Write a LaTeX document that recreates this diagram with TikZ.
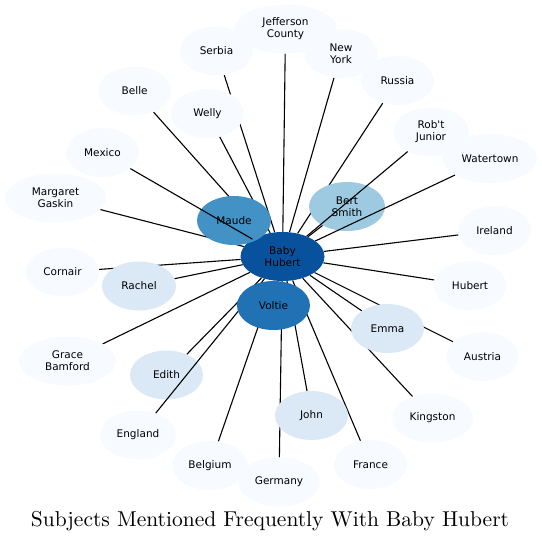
\documentclass[tikz,border=0pt]{standalone}
\usepackage{fontspec}
\newfontfamily\lbl{DejaVu Sans}
\newfontfamily\ttl{lmroman10-regular.otf}
\usetikzlibrary{shapes.geometric}
\pgfdeclarelayer{bg}
\pgfdeclarelayer{fg}
\pgfdeclarelayer{top}
\pgfsetlayers{bg,main,fg,top}
\definecolor{cHub}{HTML}{08519C}
\definecolor{cVol}{HTML}{2171B5}
\definecolor{cMau}{HTML}{4292C6}
\definecolor{cBer}{HTML}{9ECAE1}
\definecolor{cMid}{HTML}{DBE9F6}
\definecolor{cLow}{HTML}{F7FBFF}
\begin{document}
\begin{tikzpicture}[x=1pt,y=-1pt,
  blob/.style={ellipse,draw=none,minimum width=73pt,minimum height=49pt,inner sep=0pt,
    align=center,font=\lbl\fontsize{10.5}{12}\selectfont,text=black},
  low/.style={blob,fill=cLow},
  mid/.style={blob,fill=cMid},
  link/.style={line width=1.1pt,black}]
\useasboundingbox (0,0) rectangle (541,543);
% nodes
\node[blob,fill=cHub,minimum width=84pt] (hub) at (282.5,256.5) {Baby\\Hubert};
\node[low,minimum width=103pt] (jeff) at (285.5,29) {Jefferson\\County};
\node[low] (serbia) at (216.5,51) {Serbia};
\node[low] (newyork) at (341,53.5) {New\\York};
\node[low] (russia) at (397.5,80.5) {Russia};
\node[low] (belle) at (134.7,91) {Belle};
\node[low] (welly) at (207.5,113.5) {Welly};
\node[low,minimum width=76pt] (robt) at (431,132) {Rob't\\Junior};
\node[low,minimum width=94pt] (water) at (490,158.5) {Watertown};
\node[low] (mexico) at (102.5,152.5) {Mexico};
\node[low,minimum width=101pt] (marg) at (55.5,198) {Margaret\\Gaskin};
\node[blob,fill=cMau,minimum width=74pt] (maude) at (234,220.5) {Maude};
\node[blob,fill=cBer,minimum width=76pt] (bert) at (347,206.5) {Bert\\Smith};
\node[low] (ireland) at (494.5,230.5) {Ireland};
\node[low] (cornair) at (62.5,272) {Cornair};
\node[mid,minimum width=74pt] (rachel) at (139,286) {Rachel};
\node[low] (hubert) at (470,285.5) {Hubert};
\node[mid] (emma) at (387.5,328.5) {Emma};
\node[low,minimum width=97pt] (grace) at (67.5,361) {Grace\\Bamford};
\node[low] (austria) at (482.5,356.5) {Austria};
\node[mid] (edith) at (166.5,375) {Edith};
\node[mid] (john) at (311.5,415.5) {John};
\node[low,minimum width=81pt] (king) at (432.5,418) {Kingston};
\node[low,minimum width=76pt] (england) at (138,435) {England};
\node[low] (france) at (370.5,464.5) {France};
\node[low,minimum width=76pt] (belgium) at (210,465.5) {Belgium};
\node[low,minimum width=82pt] (germany) at (279,482) {Germany};
\begin{pgfonlayer}{top}
\node[blob,fill=cVol] (voltie) at (273.5,305.5) {Voltie};
\end{pgfonlayer}
% edges under the nodes
\begin{pgfonlayer}{bg}
\foreach \n in {jeff,serbia,newyork,russia,belle,welly,ireland,marg,maude,bert,
  cornair,rachel,hubert,emma,grace,austria,edith,john,king,france,belgium,germany,voltie}
  \draw[link] (hub) -- (\n);
\end{pgfonlayer}
% edges over some nodes
\begin{pgfonlayer}{fg}
\foreach \n in {mexico,robt,water,england}
  \draw[link] (hub) -- (\n);
\end{pgfonlayer}
\node[font=\ttl\fontsize{21.5}{26}\selectfont] (title) at (270,521) {Subjects Mentioned Frequently With Baby Hubert};
\end{tikzpicture}
\end{document}
